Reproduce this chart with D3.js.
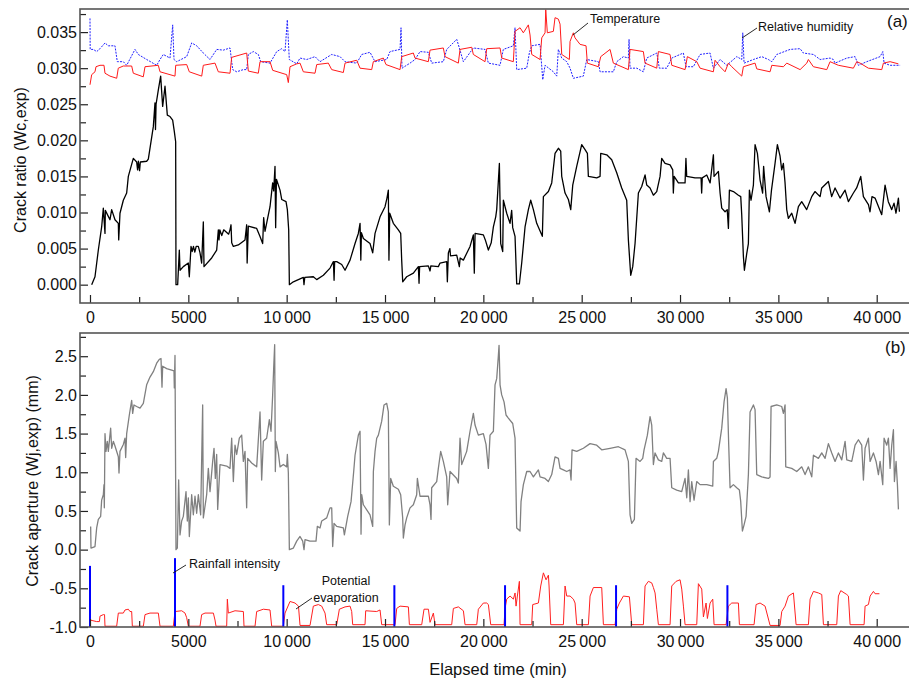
<!DOCTYPE html>
<html>
<head>
<meta charset="utf-8">
<script src="https://cdn.jsdelivr.net/npm/d3@7"></script>
<style>
  body { margin: 0; background: #fff; }
  svg { display: block; font-family: "Liberation Sans", Arial, sans-serif; }
</style>
</head>
<body>
<div id="chart"></div>
<script>
const width = 909;
const height = 681;

// x ticks (elapsed time, min)
const xMajor = [0, 5000, 10000, 15000, 20000, 25000, 30000, 35000, 40000];
const xMajorLabels = ['0', '5000', '10\u2009000', '15\u2009000', '20\u2009000', '25\u2009000', '30\u2009000', '35\u2009000', '40\u2009000'];
const xMinor = [2500, 7500, 12500, 17500, 22500, 27500, 32500, 37500];

// panel (a) ticks
const yTicksA = [0, 0.005, 0.010, 0.015, 0.020, 0.025, 0.030, 0.035];
const yLabelsA = ['0.000', '0.005', '0.010', '0.015', '0.020', '0.025', '0.030', '0.035'];
const yMinorA = [0.0025, 0.0075, 0.0125, 0.0175, 0.0225, 0.0275, 0.0325, 0.0375];

// panel (b) ticks
const yTicksB = [-1.0, -0.5, 0.0, 0.5, 1.0, 1.5, 2.0, 2.5];
const yLabelsB = ['-1.0', '-0.5', '0.0', '0.5', '1.0', '1.5', '2.0', '2.5'];
const yMinorB = [-0.75, -0.25, 0.25, 0.75, 1.25, 1.75, 2.25, 2.75];

// crack ratio Wc,exp  [time, value]
const crackRatio = [[86,0.0000],[254,0.0011],[424,0.0048],[593,0.0080],[678,0.0106],[763,0.0071],[780,0.0103],[1017,0.0090],[1102,0.0104],[1271,0.0090],[1441,0.0085],[1460,0.0062],[1525,0.0099],[1695,0.0117],[1865,0.0127],[1949,0.0150],[2203,0.0175],[2373,0.0170],[2420,0.0159],[2460,0.0171],[2520,0.0158],[2560,0.0170],[2881,0.0171],[2966,0.0174],[3220,0.0219],[3305,0.0252],[3330,0.0215],[3360,0.0250],[3475,0.0270],[3593,0.0289],[3695,0.0247],[3814,0.0275],[3932,0.0235],[4068,0.0233],[4203,0.0228],[4288,0.0212],[4356,0.0198],[4373,0.0000],[4458,0.0000],[4542,0.0048],[4577,0.0020],[4746,0.0025],[4999,0.0030],[5050,0.0011],[5136,0.0053],[5200,0.0046],[5260,0.0053],[5330,0.0045],[5400,0.0053],[5508,0.0053],[5594,0.0044],[5678,0.0030],[5763,0.0087],[5797,0.0025],[6187,0.0037],[6442,0.0048],[6526,0.0076],[6560,0.0062],[6600,0.0076],[6700,0.0068],[6800,0.0076],[7050,0.0070],[7119,0.0076],[7170,0.0083],[7205,0.0058],[7288,0.0053],[7542,0.0055],[7882,0.0062],[7966,0.0083],[7990,0.0030],[8051,0.0081],[8475,0.0078],[8640,0.0067],[8780,0.0057],[8830,0.0093],[8898,0.0074],[9153,0.0108],[9288,0.0141],[9340,0.0130],[9407,0.0164],[9440,0.0079],[9480,0.0146],[9662,0.0131],[9750,0.0118],[9967,0.0115],[10035,0.0104],[10103,0.0076],[10137,0.0000],[10340,0.0004],[10849,0.0010],[10880,0.0000],[10920,0.0010],[11357,0.0011],[11527,0.0007],[11866,0.0013],[12205,0.0023],[12375,0.0032],[12410,0.0006],[12440,0.0032],[12544,0.0032],[12798,0.0028],[12968,0.0020],[13222,0.0034],[13476,0.0057],[13644,0.0071],[13731,0.0085],[13770,0.0034],[13800,0.0072],[13900,0.0064],[14238,0.0057],[14374,0.0044],[14493,0.0071],[14747,0.0094],[15001,0.0108],[15100,0.0120],[15170,0.0131],[15200,0.0034],[15240,0.0099],[15424,0.0085],[15678,0.0076],[15798,0.0071],[15848,0.0034],[15900,0.0004],[16102,0.0011],[16441,0.0016],[16695,0.0025],[16730,0.0002],[16760,0.0025],[17203,0.0026],[17290,0.0019],[17330,0.0026],[17712,0.0025],[17797,0.0030],[18137,0.0032],[18170,0.0004],[18221,0.0044],[18300,0.0050],[18330,0.0040],[18645,0.0041],[18780,0.0025],[18820,0.0037],[18984,0.0034],[19323,0.0053],[19492,0.0069],[19540,0.0016],[19580,0.0071],[20001,0.0069],[20100,0.0062],[20255,0.0048],[20400,0.0058],[20510,0.0080],[20629,0.0094],[20679,0.0104],[20815,0.0168],[20883,0.0057],[20985,0.0046],[21018,0.0117],[21188,0.0099],[21357,0.0085],[21440,0.0103],[21493,0.0079],[21611,0.0067],[21696,0.0001],[21832,0.0001],[21950,0.0030],[22120,0.0080],[22289,0.0104],[22408,0.0117],[22544,0.0104],[22713,0.0085],[23000,0.0067],[23052,0.0122],[23307,0.0129],[23476,0.0141],[23645,0.0182],[23815,0.0189],[23934,0.0185],[23985,0.0150],[24154,0.0127],[24324,0.0118],[24443,0.0104],[24545,0.0138],[24747,0.0164],[25001,0.0194],[25171,0.0187],[25290,0.0182],[25340,0.0150],[25764,0.0148],[25934,0.0150],[25968,0.0182],[26273,0.0180],[26527,0.0173],[26781,0.0155],[27035,0.0134],[27289,0.0117],[27374,0.0062],[27493,0.0013],[27595,0.0025],[27713,0.0057],[27883,0.0127],[28052,0.0136],[28222,0.0152],[28307,0.0138],[28476,0.0134],[28646,0.0124],[28815,0.0129],[28985,0.0150],[29069,0.0175],[29239,0.0168],[29493,0.0166],[29629,0.0159],[29660,0.0127],[29700,0.0150],[29916,0.0141],[30256,0.0141],[30300,0.0175],[30340,0.0150],[30764,0.0148],[31070,0.0148],[31100,0.0127],[31130,0.0148],[31358,0.0152],[31530,0.0141],[31697,0.0180],[31730,0.0150],[31951,0.0157],[32036,0.0127],[32121,0.0106],[32290,0.0101],[32400,0.0104],[32460,0.0078],[32510,0.0131],[32714,0.0129],[32968,0.0124],[33087,0.0122],[33137,0.0097],[33222,0.0039],[33273,0.0020],[33391,0.0043],[33476,0.0057],[33527,0.0131],[33610,0.0117],[33730,0.0138],[33815,0.0194],[33934,0.0182],[34069,0.0145],[34200,0.0127],[34250,0.0164],[34374,0.0122],[34544,0.0101],[34650,0.0131],[34831,0.0168],[34950,0.0194],[35086,0.0178],[35170,0.0159],[35255,0.0168],[35340,0.0141],[35425,0.0104],[35509,0.0092],[35680,0.0099],[35849,0.0085],[36018,0.0108],[36187,0.0115],[36440,0.0104],[36696,0.0122],[36860,0.0129],[37120,0.0122],[37204,0.0134],[37543,0.0143],[37710,0.0122],[37882,0.0134],[38137,0.0120],[38391,0.0131],[38560,0.0115],[38815,0.0127],[38980,0.0134],[39188,0.0150],[39323,0.0122],[39580,0.0111],[39660,0.0101],[39760,0.0122],[39916,0.0120],[40255,0.0097],[40425,0.0138],[40590,0.0115],[40764,0.0104],[40880,0.0113],[40980,0.0099],[41103,0.0120],[41155,0.0101]];

// temperature (scaled, panel a)  [time, value]
const temperature = [[0,0.0277],[86,0.0291],[254,0.0295],[305,0.0302],[508,0.0304],[712,0.0304],[763,0.0293],[1017,0.0289],[1358,0.0286],[1439,0.0300],[1693,0.0303],[2120,0.0303],[2202,0.0293],[2710,0.0288],[2797,0.0302],[3473,0.0304],[3560,0.0295],[4322,0.0289],[4358,0.0304],[4917,0.0305],[5049,0.0295],[5680,0.0289],[5761,0.0304],[6356,0.0307],[6524,0.0295],[7119,0.0293],[7205,0.0315],[7968,0.0321],[8050,0.0296],[8558,0.0293],[8645,0.0309],[9153,0.0309],[9290,0.0297],[10002,0.0291],[10084,0.0280],[10170,0.0302],[10511,0.0306],[10679,0.0307],[10847,0.0295],[11441,0.0293],[11528,0.0305],[12118,0.0307],[12290,0.0298],[12881,0.0294],[12967,0.0307],[13562,0.0311],[13730,0.0300],[14324,0.0298],[14406,0.0309],[14914,0.0314],[15051,0.0305],[15764,0.0298],[15850,0.0316],[16440,0.0321],[16526,0.0314],[17203,0.0309],[17289,0.0325],[17965,0.0328],[18052,0.0316],[18728,0.0307],[18815,0.0326],[19409,0.0329],[19491,0.0319],[20086,0.0309],[20172,0.0327],[20849,0.0328],[20935,0.0314],[21525,0.0309],[21611,0.0351],[21866,0.0356],[22033,0.0349],[22288,0.0360],[22374,0.0346],[22460,0.0319],[22883,0.0312],[22969,0.0342],[23137,0.0349],[23172,0.0381],[23254,0.0349],[23559,0.0351],[23645,0.0370],[23813,0.0368],[23900,0.0361],[23986,0.0319],[24373,0.0312],[24408,0.0337],[24576,0.0349],[24662,0.0342],[24917,0.0333],[25222,0.0331],[25288,0.0307],[25847,0.0302],[25969,0.0316],[26442,0.0326],[26610,0.0307],[27373,0.0298],[27459,0.0326],[28135,0.0323],[28222,0.0307],[28817,0.0300],[28898,0.0323],[29493,0.0319],[29580,0.0304],[30256,0.0298],[30373,0.0316],[30851,0.0309],[31019,0.0300],[31695,0.0295],[31781,0.0311],[32036,0.0302],[32290,0.0295],[32458,0.0307],[32631,0.0302],[33139,0.0289],[33221,0.0302],[33815,0.0307],[33902,0.0299],[34578,0.0295],[34665,0.0304],[35255,0.0302],[35427,0.0307],[36104,0.0298],[36444,0.0307],[36526,0.0312],[36780,0.0302],[37462,0.0298],[37629,0.0309],[38051,0.0304],[38814,0.0300],[38987,0.0309],[39155,0.0307],[39577,0.0300],[40258,0.0298],[40340,0.0307],[40680,0.0309],[41102,0.0306]];

// relative humidity (scaled, panel a)  [time, value]
const humidity = [[0,0.0369],[10,0.0326],[168,0.0326],[341,0.0323],[508,0.0327],[763,0.0335],[931,0.0331],[1271,0.0331],[1388,0.0309],[1693,0.0309],[1866,0.0304],[2288,0.0326],[2456,0.0319],[2883,0.0312],[3392,0.0304],[3560,0.0312],[3727,0.0319],[4068,0.0314],[4205,0.0360],[4271,0.0312],[4409,0.0309],[4917,0.0316],[5171,0.0335],[5426,0.0331],[5761,0.0321],[6102,0.0312],[6443,0.0326],[6778,0.0325],[7119,0.0328],[7256,0.0298],[7460,0.0295],[7795,0.0298],[7968,0.0298],[8050,0.0319],[8304,0.0323],[8558,0.0319],[8680,0.0309],[9153,0.0307],[9494,0.0323],[9748,0.0327],[9916,0.0323],[10033,0.0367],[10134,0.0312],[10511,0.0306],[10679,0.0314],[11019,0.0312],[11441,0.0316],[11696,0.0309],[12290,0.0319],[12713,0.0316],[12967,0.0309],[13562,0.0307],[13816,0.0319],[14238,0.0322],[14492,0.0309],[15087,0.0312],[15255,0.0323],[15764,0.0326],[15814,0.0356],[15865,0.0300],[16272,0.0307],[16526,0.0312],[16781,0.0323],[17203,0.0322],[17375,0.0307],[17965,0.0309],[18138,0.0326],[18647,0.0340],[18779,0.0328],[18983,0.0309],[19491,0.0328],[20086,0.0326],[20254,0.0307],[20849,0.0304],[21016,0.0326],[21525,0.0331],[21611,0.0356],[21696,0.0298],[22205,0.0300],[22339,0.0321],[22460,0.0331],[22883,0.0333],[23020,0.0284],[23137,0.0304],[23559,0.0295],[23731,0.0289],[23813,0.0326],[23986,0.0314],[24240,0.0309],[24408,0.0300],[24576,0.0286],[25084,0.0289],[25257,0.0312],[25847,0.0309],[25934,0.0295],[26442,0.0295],[26610,0.0295],[26783,0.0309],[27119,0.0316],[27373,0.0314],[27408,0.0340],[27459,0.0300],[27800,0.0300],[28135,0.0295],[28307,0.0314],[28817,0.0321],[28949,0.0300],[29325,0.0300],[29580,0.0314],[30169,0.0321],[30307,0.0302],[30678,0.0302],[31019,0.0319],[31527,0.0321],[31695,0.0300],[32036,0.0312],[32377,0.0304],[32885,0.0316],[33139,0.0312],[33190,0.0349],[33256,0.0307],[33729,0.0312],[34156,0.0316],[34492,0.0312],[34665,0.0309],[34919,0.0319],[35595,0.0326],[36104,0.0327],[36271,0.0321],[36780,0.0319],[37121,0.0312],[37629,0.0314],[37797,0.0312],[37883,0.0307],[38478,0.0314],[38900,0.0316],[39068,0.0304],[39495,0.0309],[40172,0.0316],[40309,0.0323],[40375,0.0307],[40680,0.0304],[41189,0.0304]];

// crack aperture Wj,exp (mm)  [time, value]
const crackAperture = [[34,0.30],[51,0.02],[254,0.04],[339,0.28],[424,0.39],[542,0.43],[593,0.64],[678,0.71],[712,0.84],[729,0.54],[763,1.50],[814,1.27],[881,1.40],[932,1.27],[1051,1.57],[1102,1.31],[1186,1.40],[1271,1.34],[1441,1.20],[1475,0.99],[1525,1.27],[1695,1.36],[1780,1.44],[1814,1.19],[1865,1.50],[2000,1.74],[2119,1.93],[2170,1.76],[2237,1.87],[2373,1.85],[2543,1.83],[2712,1.89],[2881,2.13],[3051,2.23],[3220,2.30],[3390,2.41],[3525,2.46],[3610,2.47],[3661,2.10],[3695,2.37],[3898,2.34],[4152,2.32],[4271,2.31],[4288,2.09],[4322,2.51],[4373,0.00],[4441,0.02],[4508,0.90],[4577,0.19],[4661,0.37],[4746,0.43],[4882,0.75],[4949,0.37],[5000,0.67],[5051,0.17],[5170,0.71],[5255,0.45],[5339,0.69],[5424,0.47],[5508,0.71],[5627,0.45],[5729,1.87],[5763,0.41],[5932,0.71],[6017,1.05],[6102,0.75],[6238,1.14],[6306,1.31],[6373,0.92],[6441,1.23],[6492,0.52],[6611,1.10],[6950,1.08],[7119,1.05],[7204,1.44],[7289,0.88],[7373,1.35],[7458,1.23],[7593,1.44],[7712,1.48],[7797,1.14],[7882,1.27],[7966,0.54],[8017,1.18],[8221,1.12],[8475,1.07],[8645,1.78],[8729,0.90],[8814,1.40],[8983,1.44],[9119,1.68],[9204,1.53],[9288,2.00],[9339,2.34],[9390,2.65],[9424,1.01],[9458,1.40],[9577,1.25],[9662,1.07],[9831,1.10],[10001,1.07],[10035,1.23],[10085,0.99],[10137,0.00],[10340,0.02],[10510,0.11],[10679,0.17],[10815,0.11],[10882,0.00],[10933,0.13],[11187,0.11],[11492,0.11],[11560,0.30],[11696,0.28],[11781,0.37],[12035,0.41],[12205,0.54],[12290,0.54],[12340,0.04],[12408,0.34],[12544,0.30],[12883,0.28],[12934,0.19],[13103,0.43],[13273,0.62],[13408,1.01],[13476,1.22],[13645,1.48],[13730,1.53],[13781,0.20],[13815,0.71],[13900,0.58],[14238,0.45],[14374,0.30],[14408,1.01],[14493,1.27],[14577,1.44],[14662,1.48],[14747,1.57],[14832,1.66],[14950,1.87],[15086,1.89],[15170,1.78],[15221,0.32],[15289,0.92],[15424,0.82],[15678,0.78],[15797,0.71],[15899,0.41],[15933,0.15],[16018,0.32],[16102,0.41],[16272,0.54],[16441,0.58],[16611,0.71],[16645,0.92],[16780,0.69],[17204,0.69],[17289,0.58],[17339,0.39],[17373,0.80],[17628,0.88],[17712,1.05],[17831,1.27],[17966,1.14],[18136,0.94],[18187,0.58],[18306,1.01],[18645,0.92],[18729,0.86],[18814,1.44],[18899,1.10],[19153,1.27],[19323,1.53],[19492,1.76],[19577,1.61],[19746,1.48],[20001,1.50],[20136,1.36],[20255,1.05],[20340,1.48],[20510,1.53],[20594,2.13],[20679,2.21],[20764,2.51],[20798,2.64],[20849,2.13],[20933,2.00],[21052,1.91],[21154,1.74],[21272,1.70],[21493,1.63],[21611,1.44],[21696,0.28],[21866,0.24],[21916,0.62],[22035,0.84],[22205,1.01],[22374,1.01],[22544,0.94],[22798,1.03],[22883,0.94],[23137,0.92],[23306,0.88],[23476,0.97],[23645,1.20],[23815,1.18],[23900,1.05],[24069,1.03],[24239,1.01],[24408,1.03],[24459,0.90],[24510,1.29],[24747,1.27],[25086,1.31],[25425,1.37],[25764,1.35],[26018,1.29],[26442,1.31],[26866,1.33],[27205,1.29],[27374,1.14],[27459,0.45],[27544,0.34],[27679,0.39],[27764,1.18],[27968,1.14],[28103,1.18],[28171,1.29],[28340,1.48],[28476,1.72],[28561,1.61],[28646,1.10],[28730,1.25],[28900,1.16],[29069,1.14],[29154,1.25],[29324,1.18],[29493,1.18],[29578,0.80],[29832,0.77],[30086,0.75],[30256,0.92],[30341,0.67],[30425,1.03],[30510,0.62],[30595,0.88],[30713,0.64],[30849,0.88],[31019,0.84],[31358,0.84],[31663,0.82],[31697,1.14],[31866,1.18],[31951,1.27],[32120,1.57],[32239,1.91],[32341,2.08],[32408,1.96],[32476,1.35],[32544,0.80],[32714,0.84],[32883,0.80],[33019,0.77],[33086,0.62],[33171,0.24],[33256,0.32],[33358,0.43],[33476,0.97],[33561,1.78],[33731,1.87],[33815,1.81],[33900,0.97],[34154,0.94],[34493,0.92],[34578,0.94],[34629,1.85],[34917,1.87],[35171,1.85],[35256,1.76],[35341,1.87],[35375,1.07],[35680,1.05],[35934,1.01],[36188,1.07],[36358,0.97],[36527,1.07],[36697,0.94],[36782,1.22],[37036,1.18],[37205,1.25],[37375,1.18],[37544,1.37],[37714,1.25],[37883,1.14],[38053,1.25],[38222,1.16],[38392,1.40],[38477,1.16],[38731,1.14],[38900,1.35],[39070,1.42],[39239,1.35],[39324,0.90],[39409,1.31],[39578,1.44],[39663,1.14],[39833,1.25],[39968,1.14],[40087,0.97],[40172,1.14],[40307,0.84],[40375,1.44],[40511,1.35],[40595,1.44],[40680,1.05],[40765,1.35],[40850,1.55],[40900,0.88],[40985,1.14],[41053,0.84],[41104,0.52]];

// potential evaporation (scaled, panel b)  [time, value]
const evaporation = [[0,-0.91],[339,-0.93],[480,-0.93],[508,-0.86],[678,-0.84],[740,-0.84],[763,-0.99],[1356,-0.99],[1441,-0.82],[1695,-0.82],[1780,-0.78],[1949,-0.77],[2034,-0.80],[2120,-0.80],[2153,-0.99],[2712,-0.99],[2797,-0.84],[3051,-0.82],[3475,-0.82],[3560,-0.99],[4238,-0.99],[4322,-0.80],[4662,-0.79],[4831,-0.82],[4916,-0.88],[5000,-0.99],[5594,-0.99],[5678,-0.84],[5848,-0.82],[6272,-0.82],[6356,-0.91],[6407,-0.99],[6950,-0.99],[6984,-0.64],[7035,-0.82],[7374,-0.79],[7798,-0.80],[7831,-0.99],[8391,-0.99],[8475,-0.80],[8814,-0.77],[9153,-0.78],[9238,-0.99],[9831,-0.99],[9916,-0.82],[10170,-0.67],[10424,-0.69],[10600,-0.73],[10679,-0.98],[11187,-0.98],[11357,-0.73],[11611,-0.71],[11781,-0.73],[11950,-0.82],[12035,-0.97],[12544,-0.97],[12679,-0.77],[12967,-0.74],[13222,-0.73],[13306,-0.80],[13357,-0.97],[13984,-0.97],[14018,-0.79],[14578,-0.80],[14747,-0.78],[14832,-0.97],[15510,-0.97],[15595,-0.76],[15764,-0.73],[16188,-0.74],[16239,-0.97],[16866,-0.97],[16984,-0.77],[17205,-0.77],[17290,-0.94],[17459,-0.82],[17544,-0.97],[18391,-0.97],[18476,-0.76],[18730,-0.74],[18985,-0.79],[19069,-0.97],[19663,-0.97],[19747,-0.77],[20001,-0.69],[20171,-0.69],[20256,-0.71],[20375,-0.97],[21052,-0.97],[21103,-0.76],[21188,-0.64],[21358,-0.60],[21527,-0.64],[21612,-0.56],[21663,-0.73],[21730,-0.60],[21832,-0.41],[21866,-0.97],[22459,-0.97],[22510,-0.71],[22798,-0.69],[22917,-0.47],[23053,-0.30],[23188,-0.39],[23307,-0.33],[23341,-0.47],[23425,-0.97],[24070,-0.97],[24154,-0.47],[24239,-0.60],[24409,-0.60],[24578,-0.64],[24663,-0.69],[24748,-0.97],[25341,-0.97],[25426,-0.60],[25595,-0.49],[26019,-0.49],[26104,-0.97],[26697,-0.97],[26782,-0.77],[26917,-0.69],[27121,-0.60],[27426,-0.61],[27544,-0.97],[28138,-0.97],[28222,-0.47],[28392,-0.41],[28561,-0.43],[28646,-0.49],[28731,-0.56],[28816,-0.77],[28900,-0.97],[29494,-0.97],[29578,-0.47],[29799,-0.41],[30002,-0.39],[30087,-0.51],[30172,-0.73],[30256,-0.97],[30850,-0.97],[30934,-0.44],[31104,-0.51],[31189,-0.87],[31324,-0.69],[31392,-0.89],[31528,-0.69],[31663,-0.64],[31731,-0.97],[32341,-0.97],[32460,-0.73],[32629,-0.69],[32968,-0.69],[33019,-0.97],[33765,-0.97],[33867,-0.71],[34070,-0.69],[34324,-0.73],[34579,-0.98],[35087,-0.98],[35172,-0.80],[35341,-0.73],[35511,-0.60],[35765,-0.56],[35901,-0.97],[36528,-0.97],[36613,-0.64],[36782,-0.54],[37036,-0.56],[37206,-0.58],[37291,-0.97],[37968,-0.97],[38053,-0.60],[38172,-0.53],[38477,-0.58],[38562,-0.60],[38647,-0.97],[39358,-0.97],[39409,-0.73],[39579,-0.71],[39664,-0.60],[39833,-0.54],[39918,-0.57],[40138,-0.57]];

// rainfall intensity bars (scaled, panel b)
const rainTime = [0, 4322, 9830, 15476, 21103, 26747, 32409];
const rainTop = [-0.21, -0.11, -0.46, -0.46, -0.46, -0.46, -0.46];

const svg = d3.select('#chart')
  .append('svg')
    .attr('width', width)
    .attr('height', height);

svg.append('rect').attr('width', width).attr('height', height).attr('fill', '#fff');

const x = d3.scaleLinear().domain([-508, 41947]).range([80, 915]);
const yA = d3.scaleLinear().domain([-0.00254, 0.0382]).range([303, 9]);
const yB = d3.scaleLinear().domain([-1.0, 2.8]).range([627, 333]);

// clip paths for the two panels
const defs = svg.append('defs');
[['clipA', yA], ['clipB', yB]].forEach(([id, y]) => {
  defs.append('clipPath').attr('id', id)
    .append('rect')
      .attr('x', x.range()[0]).attr('y', y.range()[1])
      .attr('width', x.range()[1] - x.range()[0])
      .attr('height', y.range()[0] - y.range()[1]);
});

function lineFor(y) {
  return d3.line().x(d => x(d[0])).y(d => y(d[1]));
}

function drawAxes(y, majors, labels, minors) {
  const g = svg.append('g');
  // bottom
  const bx = g.append('g').attr('transform', `translate(0,${y.range()[0]})`)
    .call(d3.axisBottom(x).tickValues(xMajor).tickSize(-8).tickPadding(9)
      .tickFormat((d, i) => xMajorLabels[i]));
  const bm = g.append('g').attr('transform', `translate(0,${y.range()[0]})`)
    .call(d3.axisBottom(x).tickValues(xMinor).tickSize(-6).tickFormat(''));
  // left
  const ly = g.append('g').attr('transform', `translate(${x.range()[0]},0)`)
    .call(d3.axisLeft(y).tickValues(majors).tickSize(-8).tickPadding(3)
      .tickFormat((d, i) => labels[i]));
  const lm = g.append('g').attr('transform', `translate(${x.range()[0]},0)`)
    .call(d3.axisLeft(y).tickValues(minors).tickSize(-6).tickFormat(''));
  [bx, bm, ly, lm].forEach(a => {
    a.select('.domain').remove();
    a.selectAll('line').attr('stroke', '#222').attr('stroke-width', 1.2);
    a.selectAll('text').attr('font-size', 16).attr('fill', '#111')
      .attr('font-family', '"Liberation Sans", Arial, sans-serif');
  });
  // frame
  g.append('rect')
    .attr('x', x.range()[0]).attr('y', y.range()[1])
    .attr('width', x.range()[1] - x.range()[0])
    .attr('height', y.range()[0] - y.range()[1])
    .attr('fill', 'none').attr('stroke', '#555').attr('stroke-width', 1.6);
}

// ---------- panel (a) ----------
const pa = svg.append('g').attr('clip-path', 'url(#clipA)');
pa.append('path').datum(humidity)
  .attr('d', lineFor(yA)).attr('fill', 'none')
  .attr('stroke', '#1f1fff').attr('stroke-width', 1).attr('stroke-dasharray', '2,1.2');
pa.append('path').datum(temperature)
  .attr('d', lineFor(yA)).attr('fill', 'none')
  .attr('stroke', '#ff1a1a').attr('stroke-width', 1);
pa.append('path').datum(crackRatio)
  .attr('d', lineFor(yA)).attr('fill', 'none')
  .attr('stroke', '#000').attr('stroke-width', 1.3).attr('stroke-linejoin', 'round');

drawAxes(yA, yTicksA, yLabelsA, yMinorA);

// ---------- panel (b) ----------
const pb = svg.append('g').attr('clip-path', 'url(#clipB)');
pb.append('path').datum(crackAperture)
  .attr('d', lineFor(yB)).attr('fill', 'none')
  .attr('stroke', '#808080').attr('stroke-width', 1.3).attr('stroke-linejoin', 'round');
pb.append('path').datum(evaporation)
  .attr('d', lineFor(yB)).attr('fill', 'none')
  .attr('stroke', '#ff2020').attr('stroke-width', 1);
pb.selectAll('line.rain')
  .data(rainTime.map((t, i) => [t, rainTop[i]]))
  .enter().append('line')
    .attr('class', 'rain')
    .attr('x1', d => x(d[0])).attr('x2', d => x(d[0]))
    .attr('y1', yB(-1.0)).attr('y2', d => yB(d[1]))
    .attr('stroke', '#0000ff').attr('stroke-width', 2);

drawAxes(yB, yTicksB, yLabelsB, yMinorB);

// ---------- titles & annotations ----------
const font = '"Liberation Sans", Arial, sans-serif';
function label(txt, px, py, size, anchor, rotate) {
  const t = svg.append('text')
    .attr('font-family', font).attr('font-size', size)
    .attr('fill', '#111').attr('text-anchor', anchor || 'start')
    .text(txt);
  if (rotate) t.attr('transform', `translate(${px},${py}) rotate(-90)`);
  else t.attr('x', px).attr('y', py);
  return t;
}
label('Crack ratio (Wc,exp)', 26, 160, 16, 'middle', true);
label('Crack aperture (Wj,exp) (mm)', 38, 481, 16, 'middle', true);
label('Elapsed time (min)', 498, 675, 16.5, 'middle');
label('(a)', 887, 27, 17);
label('(b)', 885, 353, 17);

label('Temperature', 590, 23, 12.5);
label('Relative humidity', 758, 31, 12.5);
label('Rainfall intensity', 189, 568, 12.5);
label('Potential', 346, 585, 12.5, 'middle');
label('evaporation', 346, 602, 12.5, 'middle');

const leaders = [
  [573, 35, 588, 23],
  [742, 38, 757, 28],
  [173, 573, 186, 565],
  [296, 609, 312, 598]
];
svg.selectAll('line.leader').data(leaders).enter().append('line')
  .attr('class', 'leader')
  .attr('x1', d => d[0]).attr('y1', d => d[1])
  .attr('x2', d => d[2]).attr('y2', d => d[3])
  .attr('stroke', '#111').attr('stroke-width', 0.9);
</script>
</body>
</html>
